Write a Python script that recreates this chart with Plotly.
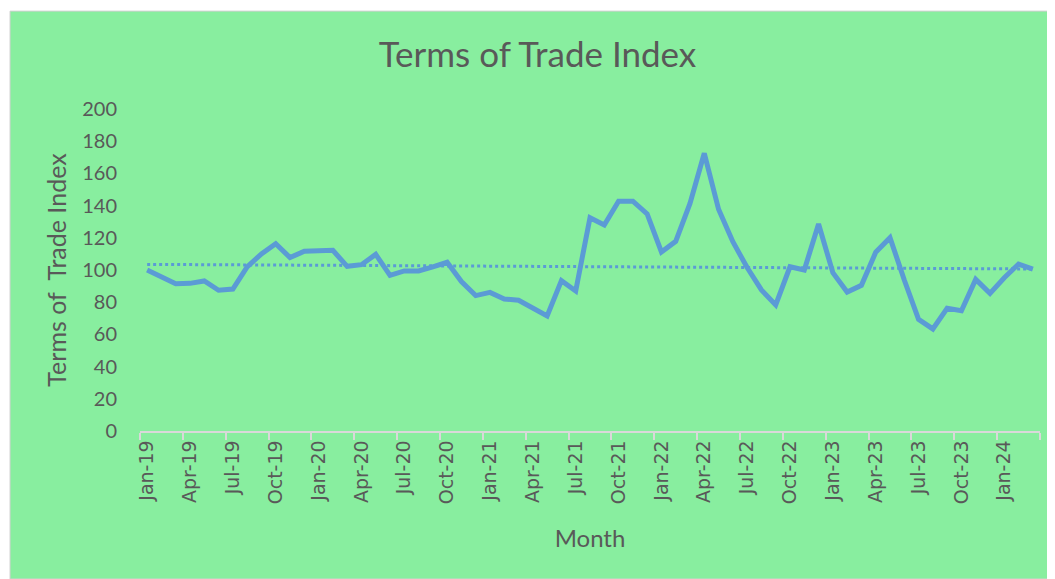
import numpy as np
import plotly.graph_objects as go

months = ["Jan","Feb","Mar","Apr","May","Jun","Jul","Aug","Sep","Oct","Nov","Dec"]
categories = [f"{m}-{y}" for y in range(19, 25) for m in months][:63]

tot_index = [100, 95.5, 91.5, 91.7, 93.2, 87.4, 88.2, 101.9, 110, 116.3, 107.7, 111.6,
             111.8, 112.2, 102.3, 103.3, 109.7, 96.7, 99.4, 99.4, 101.9, 104.8, 92.8, 84.1,
             86.1, 82, 81.2, 76, 71.4, 93.4, 87, 132.5, 128, 142.7, 142.7, 134.8,
             111.2, 117.8, 141.4, 172.5, 137.7, 117.6, 101.5, 87.6, 78.3, 102, 100, 128.6,
             98.3, 86.3, 90.5, 111, 120.1, 93.8, 69.4, 63.4, 76.2, 74.7, 94.2, 85.5,
             95.2, 103.7, 100.6]

y_ticks = [0, 20, 40, 60, 80, 100, 120, 140, 160, 180, 200]

x = np.arange(len(tot_index))
slope, intercept = np.polyfit(x, tot_index, 1)
trend = slope * x + intercept

label_idx = list(range(0, len(categories), 3))

GREEN = "#88EE9F"
BLUE = "#5B9BD5"
TEXT = "#595959"

fig = go.Figure()
fig.add_trace(go.Scatter(x=x, y=trend, mode="lines",
                         line=dict(color=BLUE, width=3, dash="dot"),
                         hoverinfo="skip", showlegend=False))
fig.add_trace(go.Scatter(x=x, y=tot_index, mode="lines",
                         line=dict(color=BLUE, width=5),
                         customdata=categories,
                         hovertemplate="%{customdata}: %{y}<extra></extra>",
                         showlegend=False))

# chart-area background (Excel style) with light border
fig.add_shape(type="rect", xref="paper", yref="paper",
              x0=-0.1444, x1=1.03, y0=-0.4596, y1=1.304,
              fillcolor=GREEN, line=dict(color="#D0D0D0", width=1), layer="below")

fig.update_layout(
    width=1047, height=571,
    margin=dict(l=132, r=15, t=101, b=148),
    paper_bgcolor="white",
    plot_bgcolor="rgba(0,0,0,0)",
    title=dict(text="Terms of Trade Index", x=(537.5 - 8) / 1047, xref="container",
               xanchor="center",
               y=1 - 47 / 571, yref="container", yanchor="middle",
               font=dict(family="Lato", size=35, color=TEXT)),
    font=dict(family="Lato", color=TEXT),
)

fig.update_xaxes(
    range=[-0.5, len(categories) - 0.5],
    tickmode="array", tickvals=label_idx,
    ticktext=[categories[i] for i in label_idx],
    tickangle=-90, ticks="",
    tickfont=dict(family="DejaVu Sans", size=19, color=TEXT),
    showline=True, linecolor="#D9D9D9", linewidth=1.5,
    showgrid=False, zeroline=False,
    minor=dict(tickmode="linear", tick0=-0.5, dtick=3, ticks="outside",
               ticklen=7, tickcolor="#D9D9D9", tickwidth=1.5, showgrid=False),
    title=dict(text="Month", font=dict(family="Lato", size=24, color=TEXT), standoff=27),
)
fig.update_yaxes(
    range=[0, 200], tickmode="array", tickvals=y_ticks,
    tickfont=dict(family="Lato", size=20, color=TEXT),
    ticklabelstandoff=22,
    showgrid=False, zeroline=False, showline=False, ticks="",
    title=dict(text="Terms of  Trade Index", font=dict(family="Lato", size=25, color=TEXT),
               standoff=8),
)

fig.write_html("out.html")
